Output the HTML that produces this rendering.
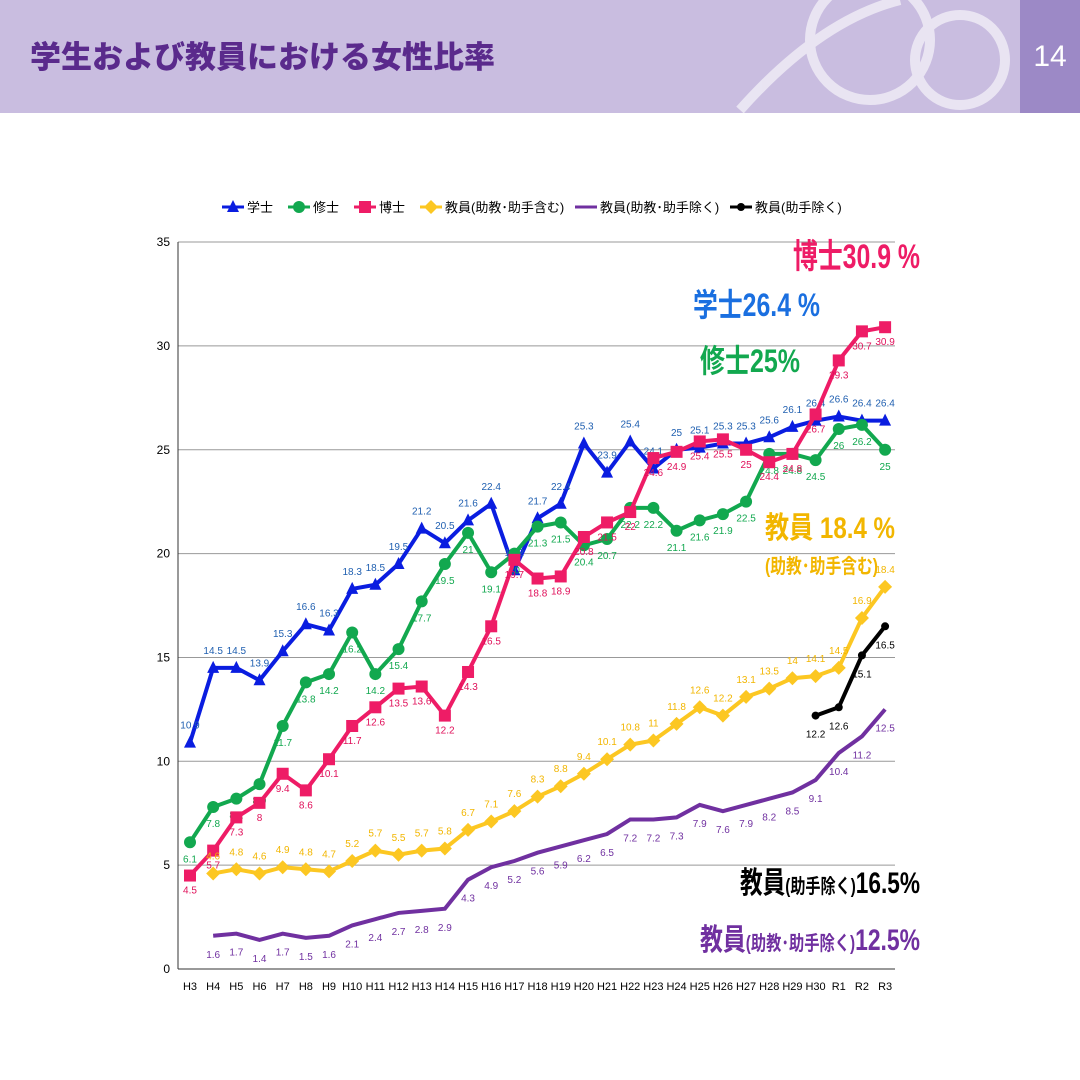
<!DOCTYPE html>
<html><head><meta charset="utf-8"><style>
body{margin:0;width:1080px;height:1080px;background:#fff;overflow:hidden;font-family:"Liberation Sans","Noto Sans CJK JP",sans-serif}
#hdr{position:absolute;left:0;top:0;width:1080px;height:113px;background:#c9bde0}
#pn{position:absolute;left:1020px;top:0;width:60px;height:113px;background:#9c89c6;color:#fff;font-size:30px;text-align:center;line-height:113px}
#title{position:absolute;left:30px;top:32px;font-size:31px;font-weight:900;color:#5a2a8c;font-family:"Noto Sans CJK JP",sans-serif}
svg{position:absolute;left:0;top:0}
</style></head><body>
<div id="hdr"></div><div id="pn">14</div>
<div id="title">学生および教員における女性比率</div>
<svg width="1080" height="1080" id="s" font-family="Liberation Sans Narrow, Liberation Sans, Noto Sans CJK JP, sans-serif">
<g stroke="#fff" stroke-width="10" fill="none" opacity="0.6">
<circle cx="870" cy="40" r="60"/><circle cx="960" cy="60" r="45"/><path d="M740 110 Q820 20 900 0"/></g>
</svg>
<script>
const s=document.getElementById('s');
const X0=190,DX=23.17,Y=v=>969-v*20.77;
let h='';
for(let v=5;v<=35;v+=5)h+=`<line x1="178" x2="895" y1="${Y(v)}" y2="${Y(v)}" stroke="#999" stroke-width="1"/>`;
h+=`<line x1="178" x2="178" y1="242" y2="969" stroke="#333"/><line x1="178" x2="895" y1="969" y2="969" stroke="#333"/>`;
for(let v=0;v<=35;v+=5)h+=`<text x="170" y="${Y(v)+4}" font-size="12" text-anchor="end">${v}</text>`;
const cats=[];for(let i=3;i<=30;i++)cats.push('H'+i);cats.push('R1','R2','R3');
cats.forEach((c,i)=>h+=`<text x="${X0+i*DX}" y="990" font-size="11" text-anchor="middle">${c}</text>`);
const S=[
{c:'#0a1de0',lc:'#1f5fb0',m:'tri',st:0,off:-14,d:[10.9,14.5,14.5,13.9,15.3,16.6,16.3,18.3,18.5,19.5,21.2,20.5,21.6,22.4,19.2,21.7,22.4,25.3,23.9,25.4,24.1,25.0,25.1,25.3,25.3,25.6,26.1,26.4,26.6,26.4,26.4]},
{c:'#12a84f',lc:'#12a84f',m:'cir',st:0,off:20,d:[6.1,7.8,8.2,8.9,11.7,13.8,14.2,16.2,14.2,15.4,17.7,19.5,21.0,19.1,20.0,21.3,21.5,20.4,20.7,22.2,22.2,21.1,21.6,21.9,22.5,24.8,24.8,24.5,26,26.2,25]},
{c:'#ee1c66',lc:'#e0105a',m:'sq',st:0,off:18,d:[4.5,5.7,7.3,8.0,9.4,8.6,10.1,11.7,12.6,13.5,13.6,12.2,14.3,16.5,19.7,18.8,18.9,20.8,21.5,22.0,24.6,24.9,25.4,25.5,25.0,24.4,24.8,26.7,29.3,30.7,30.9]},
{c:'#fcc722',lc:'#f2b600',m:'dia',st:1,off:-14,d:[4.6,4.8,4.6,4.9,4.8,4.7,5.2,5.7,5.5,5.7,5.8,6.7,7.1,7.6,8.3,8.8,9.4,10.1,10.8,11.0,11.8,12.6,12.2,13.1,13.5,14,14.1,14.5,16.9,18.4]},
{c:'#7030a0',lc:'#7030a0',m:'none',st:1,off:22,d:[1.6,1.7,1.4,1.7,1.5,1.6,2.1,2.4,2.7,2.8,2.9,4.3,4.9,5.2,5.6,5.9,6.2,6.5,7.2,7.2,7.3,7.9,7.6,7.9,8.2,8.5,9.1,10.4,11.2,12.5]},
{c:'#000',lc:'#000',m:'cir',st:27,off:22,d:[12.2,12.6,15.1,16.5]}];
function mk(m,x,y,c){
 if(m=='tri')return `<polygon points="${x},${y-7} ${x-6},${y+5} ${x+6},${y+5}" fill="${c}"/>`;
 if(m=='cir')return `<circle cx="${x}" cy="${y}" r="${c=='#000'?4:6}" fill="${c}"/>`;
 if(m=='sq')return `<rect x="${x-6}" y="${y-6}" width="12" height="12" fill="${c}"/>`;
 if(m=='dia')return `<polygon points="${x},${y-7} ${x+7},${y} ${x},${y+7} ${x-7},${y}" fill="${c}"/>`;
 return '';}
S.forEach(o=>{
 const pts=o.d.map((v,i)=>[X0+(o.st+i)*DX,Y(v)]);
 h+=`<polyline points="${pts.map(p=>p.join(',')).join(' ')}" fill="none" stroke="${o.c}" stroke-width="4"/>`;
 pts.forEach((p,i)=>{h+=mk(o.m,p[0],p[1],o.c);
  h+=`<text x="${p[0]}" y="${p[1]+o.off}" font-size="10" fill="${o.lc}" text-anchor="middle">${o.d[i]}</text>`;});
});
const L=[['学士','#0a1de0','tri'],['修士','#12a84f','cir'],['博士','#ee1c66','sq'],['教員(助教･助手含む)','#fcc722','dia'],['教員(助教･助手除く)','#7030a0','none'],['教員(助手除く)','#000','cir']];
const LX=[222,288,354,420,575,730];
L.forEach((l,i)=>{const x=LX[i];h+=`<line x1="${x}" x2="${x+22}" y1="207" y2="207" stroke="${l[1]}" stroke-width="3"/>`+mk(l[2],x+11,207,l[1])+`<text x="${x+25}" y="212" font-size="13">${l[0]}</text>`;});
const A=(x,y,fs,c,w,t)=>`<text x="${x}" y="${y}" font-size="${fs}" font-weight="bold" fill="${c}" textLength="${w}" lengthAdjust="spacingAndGlyphs">${t}</text>`;
h+=A(793,268,34,'#ee1c66',127,'博士30.9 %')
 +A(693,316,32,'#1a6fe0',127,'学士26.4 %')
 +A(700,372,32,'#12a84f',100,'修士25%')
 +A(765,538,30,'#f2b600',130,'教員  18.4 %')
 +A(765,573,20,'#f2b600',113,'(助教･助手含む)')
 +A(740,893,30,'#000',180,'教員<tspan font-size="20">(助手除く)</tspan>16.5%')
 +A(700,950,30,'#7030a0',220,'教員<tspan font-size="20">(助教･助手除く)</tspan>12.5%');
s.insertAdjacentHTML('beforeend',h);
</script>
</body></html>
